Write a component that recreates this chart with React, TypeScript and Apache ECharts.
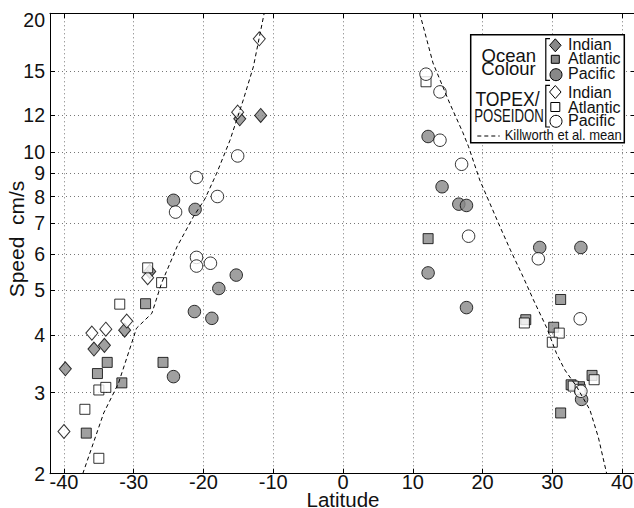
import React, { useEffect, useRef } from 'react';
import * as echarts from 'echarts';

const latTicks = [-40, -30, -20, -10, 0, 10, 20, 30, 40];
const speedTicks = [2, 3, 4, 5, 6, 7, 8, 9, 10, 12, 15, 20];

const ocIndian: number[][] = [
  [-14.8, 11.8], [-11.8, 12.0], [-27.7, 5.5], [-31.3, 4.1], [-35.7, 3.73], [-34.2, 3.8], [-39.8, 3.38],
];
const ocAtlantic: number[][] = [
  [-28.3, 4.68], [-33.8, 3.49], [-35.2, 3.3], [-31.7, 3.15], [-36.8, 2.45], [-25.8, 3.49],
  [12.2, 6.48], [31.2, 4.78], [26.2, 4.32], [30.2, 4.16], [35.7, 3.27], [32.7, 3.12], [33.9, 3.09], [31.2, 2.71],
];
const ocPacific: number[][] = [
  [-24.3, 7.85], [-21.2, 7.5], [-15.3, 5.4], [-17.8, 5.05], [-21.3, 4.5], [-18.8, 4.35], [-24.3, 3.25],
  [12.2, 10.8], [14.2, 8.4], [16.6, 7.7], [17.7, 7.65], [12.2, 5.46], [17.7, 4.59], [28.2, 6.2], [34.1, 6.2], [34.2, 2.9],
];
const tpIndian: number[][] = [
  [-12.0, 17.6], [-15.1, 12.2], [-28.0, 5.33], [-31.0, 4.29], [-36.0, 4.04], [-34.0, 4.12], [-40.0, 2.47],
];
const tpAtlantic: number[][] = [
  [-28.0, 5.6], [-26.0, 5.2], [-32.0, 4.67], [-35.0, 3.04], [-34.0, 3.08], [-37.0, 2.76], [-35.0, 2.16],
  [11.9, 14.2], [26.0, 4.25], [31.0, 4.04], [30.0, 3.86], [36.0, 3.2], [33.0, 3.1], [34.0, 3.05],
];
const tpPacific: number[][] = [
  [-15.1, 9.8], [-21.0, 8.8], [-18.0, 8.0], [-24.0, 7.4], [-21.0, 5.9], [-21.0, 5.65], [-19.0, 5.73],
  [11.9, 14.75], [13.9, 13.5], [13.9, 10.6], [17.0, 9.4], [18.0, 6.56], [28.0, 5.86], [34.0, 4.34], [34.1, 3.02],
];
const killworthSouth: number[][] = [
  [-37.3, 2.0], [-34.3, 2.71], [-32.2, 3.14], [-30.3, 3.84], [-29.6, 4.14], [-27.4, 4.46], [-26.0, 5.19],
  [-23.8, 6.22], [-21.45, 7.23], [-19.8, 7.9], [-18.1, 8.99], [-16.2, 10.6], [-14.3, 12.96], [-12.85, 15.3], [-11.3, 20],
];
const killworthNorth: number[][] = [
  [11.0, 20], [12.9, 15.6], [15.3, 12.75], [17.2, 11.0], [18.0, 10.26], [19.6, 8.69], [22.5, 6.88], [24.0, 6.12],
  [25.8, 5.36], [27.3, 4.77], [29.2, 4.15], [30.6, 3.65], [31.8, 3.36], [33.5, 3.09], [35.4, 2.75], [36.6, 2.4], [37.8, 2.0],
];

const FONT = 'Liberation Sans, Arial, Helvetica, sans-serif';
const INK = '#111';
const GRAY = '#888';

export default function App() {
  const ref = useRef<HTMLDivElement>(null);
  useEffect(() => {
    const chart = echarts.init(ref.current!, null, { renderer: 'svg' });
    const tickLine = { lineStyle: { color: '#000', width: 1 } };
    const filled = { color: GRAY, borderColor: '#000', borderWidth: 1 };
    const open = { color: '#fff', borderColor: '#000', borderWidth: 1 };
    const scatter = (name: string, data: number[][], symbol: string, size: any, style: any) => ({
      name, type: 'scatter', data, symbol, symbolSize: size, itemStyle: style, xAxisIndex: 0, yAxisIndex: 0,
    });
    const dashed = { color: '#000', width: 1, type: [4, 3] };
    const z = 100;
    const txt = (text: string, x: number, y: number, size: number, align: string, scaleX = 1, lh = 12) => ({
      type: 'text', x, y, scaleX, z,
      style: { text, x: 0, y: 0, fill: INK, font: `${size}px ${FONT}`, align, verticalAlign: 'middle', lineHeight: lh },
    });
    const diamond = (cx: number, cy: number, w: number, h: number, fill: string) => ({
      type: 'polygon', z,
      shape: { points: [[cx, cy - h / 2], [cx + w / 2, cy], [cx, cy + h / 2], [cx - w / 2, cy]] },
      style: { fill, stroke: '#000', lineWidth: 1 },
    });
    const square = (cx: number, cy: number, s: number, fill: string) => ({
      type: 'rect', z, shape: { x: cx - s / 2, y: cy - s / 2, width: s, height: s },
      style: { fill, stroke: '#000', lineWidth: 1 },
    });
    const circle = (cx: number, cy: number, r: number, fill: string) => ({
      type: 'circle', z, shape: { cx, cy, r }, style: { fill, stroke: '#000', lineWidth: 1 },
    });
    const bracket = (y1: number, y2: number) => ({
      type: 'polyline', z,
      shape: { points: [[550, y1], [545.8, y1], [545.8, y2], [550, y2]] },
      style: { fill: 'none', stroke: '#000', lineWidth: 1.2 },
    });
    const grid = { show: true, lineStyle: { color: '#777', width: 1, type: [1, 3] } };

    const option: any = {
      animation: false,
      backgroundColor: '#fff',
      grid: { left: 50, right: -2, top: 13.3, bottom: 34.3, containLabel: false, outerBoundsMode: 'none' },
      xAxis: [
        {
          type: 'value', min: -42, max: 42, position: 'bottom',
          axisLine: { show: true, onZero: false, lineStyle: { color: '#000', width: 1 } },
          axisTick: { show: true, inside: true, length: 5, customValues: latTicks, ...tickLine },
          axisLabel: { customValues: latTicks, fontSize: 20, lineHeight: 17, color: INK, fontFamily: FONT, margin: 0 },
          splitLine: grid,
          name: 'Latitude', nameLocation: 'middle', nameGap: 17, nameMoveOverlap: false,
          nameTextStyle: { fontSize: 20.5, lineHeight: 17, color: INK, fontFamily: FONT },
        },
        {
          type: 'value', min: -42, max: 42, position: 'top',
          axisLine: { show: true, onZero: false, lineStyle: { color: '#000', width: 1.2 } },
          axisTick: { show: true, inside: true, length: 5, customValues: latTicks, ...tickLine },
          axisLabel: { show: false },
          splitLine: { show: false },
        },
      ],
      yAxis: [
        {
          type: 'log', logBase: 10, min: 2, max: 20, position: 'left',
          axisLine: { show: true, onZero: false, lineStyle: { color: '#000', width: 1 } },
          axisTick: { show: true, inside: true, length: 5, customValues: speedTicks, ...tickLine },
          axisLabel: {
            customValues: speedTicks, fontSize: 19.5, color: INK, fontFamily: FONT, margin: 5,
            formatter: (v: number) => (Math.abs(v - 20) < 1e-6 ? '{top|20}' : String(Math.round(v))),
            rich: { top: { fontSize: 19.5, color: INK, fontFamily: FONT, padding: [14, 0, 0, 0] } },
          },
          splitLine: grid,
          minorTick: { show: false },
        },
        {
          type: 'log', logBase: 10, min: 2, max: 20, position: 'right',
          axisLine: { show: true, onZero: false, lineStyle: { color: '#000', width: 1 } },
          axisTick: { show: true, inside: true, length: 5, customValues: speedTicks, ...tickLine },
          axisLabel: { show: false },
          splitLine: { show: false },
        },
      ],
      series: [
        scatter('Ocean Colour Indian', ocIndian, 'diamond', [12, 14], filled),
        scatter('Ocean Colour Atlantic', ocAtlantic, 'rect', 10, filled),
        scatter('Ocean Colour Pacific', ocPacific, 'circle', 12.5, filled),
        scatter('TOPEX/POSEIDON Indian', tpIndian, 'diamond', [12, 14], open),
        scatter('TOPEX/POSEIDON Atlantic', tpAtlantic, 'rect', 10, open),
        scatter('TOPEX/POSEIDON Pacific', tpPacific, 'circle', 12.5, open),
        {
          name: 'Killworth et al. mean', type: 'line', data: killworthSouth, showSymbol: false,
          lineStyle: dashed, xAxisIndex: 0, yAxisIndex: 0, clip: true,
        },
        {
          name: 'Killworth et al. mean ', type: 'line', data: killworthNorth, showSymbol: false,
          lineStyle: dashed, xAxisIndex: 0, yAxisIndex: 0, clip: true,
        },
      ],
      graphic: [
        {
          type: 'text', x: 16, y: 239, rotation: Math.PI / 2, z,
          style: { text: 'Speed  cm/s', x: 0, y: 0, fill: INK, font: `21px ${FONT}`, align: 'center', verticalAlign: 'middle' },
        },
        {
          type: 'rect', z, shape: { x: 470.7, y: 34.7, width: 153.6, height: 108 },
          style: { fill: '#fff', stroke: '#000', lineWidth: 1.5 },
        },
        txt('Ocean', 508.8, 55.2, 18.5, 'center', 1, 12.5),
        txt('Colour', 508.5, 68.2, 18.5, 'center', 1, 12.5),
        txt('TOPEX/', 507.5, 98.7, 20, 'center', 0.88, 15.5),
        txt('POSEIDON', 509, 114.7, 18.6, 'center', 0.71, 15.5),
        bracket(38.7, 80.3),
        bracket(85.3, 127),
        diamond(555.3, 45.3, 11.5, 13, GRAY),
        square(555.3, 59.3, 8, GRAY),
        circle(556, 74.7, 6, GRAY),
        diamond(555.3, 92, 11.5, 13, '#fff'),
        square(555.3, 107, 9, '#fff'),
        circle(556, 121.3, 6, '#fff'),
        txt('Indian', 568, 44.7, 16, 'left', 1, 13.5),
        txt('Atlantic', 568, 58.7, 16, 'left', 1, 13.5),
        txt('Pacific', 568, 73.7, 16, 'left', 1, 13.5),
        txt('Indian', 568, 92, 16, 'left', 1, 13.5),
        txt('Atlantic', 568, 107, 16, 'left', 1, 13.5),
        txt('Pacific', 568, 120.7, 16, 'left', 1, 13.5),
        {
          type: 'line', z, shape: { x1: 477.3, y1: 136, x2: 499.7, y2: 136 },
          style: { stroke: '#000', lineWidth: 1, lineDash: [4, 3] },
        },
        txt('Killworth et al. mean', 504.7, 135.3, 14, 'left', 0.93, 12),
      ],
    };
    chart.setOption(option);
    return () => chart.dispose();
  }, []);
  return <div ref={ref} style={{ position: 'absolute', left: 0, top: 0, width: 634, height: 508 }} />;
}
